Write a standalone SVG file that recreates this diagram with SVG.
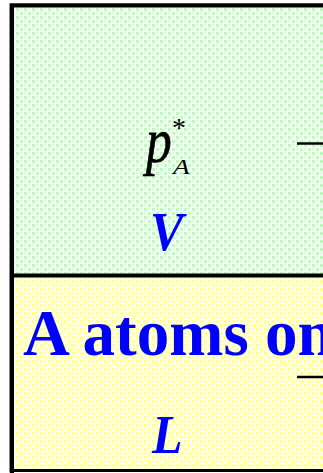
<svg xmlns="http://www.w3.org/2000/svg" width="323" height="473" viewBox="0 0 323 473">
<defs>
<pattern id="pg" width="8" height="8" patternUnits="userSpaceOnUse">
<rect width="8" height="8" fill="#f2fff2"/>
<rect x="0" y="0" width="3" height="3" fill="#bff9bf"/>
<rect x="4" y="4" width="3" height="3" fill="#bff9bf"/>
<rect x="4" y="0" width="2" height="2" fill="#d6fdd6"/>
<rect x="0" y="4" width="2" height="2" fill="#d6fdd6"/>
</pattern>
<pattern id="py" width="8" height="8" patternUnits="userSpaceOnUse">
<rect width="8" height="8" fill="#ffffec"/>
<rect x="0" y="0" width="3" height="3" fill="#ffff94"/>
<rect x="4" y="4" width="3" height="3" fill="#ffff94"/>
<rect x="4" y="0" width="2" height="2" fill="#ffffbc"/>
<rect x="0" y="4" width="2" height="2" fill="#ffffbc"/>
</pattern>
<style>
.eq{font-family:"Liberation Serif","Times New Roman",serif;}
.it{font-style:italic;}
.bi{font-style:italic;font-weight:bold;fill:#0000ff;}
.big{font-family:"Liberation Serif","Times New Roman",serif;font-weight:bold;fill:#0000ff;font-size:65px;}
.rule{stroke:#000;stroke-width:2.5;}
</style>
</defs>
<rect width="323" height="473" fill="#ffffff"/>
<g id="vapor">
<rect x="12" y="5.5" width="320" height="270" fill="url(#pg)"/>
<g class="eq">
<text class="it" transform="translate(146,162) scale(0.92,1.12)" font-size="56" stroke="#000" stroke-width="0.6">p</text>
<text class="it" transform="translate(173,174) scale(1.3,1)" font-size="21">A</text>
<text x="172" y="137" font-size="28">*</text>
<text class="bi" transform="translate(150,250) scale(1,1.08)" font-size="50">V</text>
</g>
<line class="rule" x1="297" y1="143.5" x2="323" y2="143.5"/>
</g>
<g id="liquid">
<rect x="12" y="275.5" width="320" height="195" fill="url(#py)"/>
<text class="big" x="23" y="355">A atoms on</text>
<g class="eq">
<text class="bi" transform="translate(152,453) scale(1,1.08)" font-size="50">L</text>
</g>
<line class="rule" x1="297" y1="377" x2="323" y2="377"/>
</g>
<g id="frame" fill="none">
<path d="M9.5 472.5 V3.5 H323" stroke="#888" stroke-width="1"/>
<path d="M12 473 V5.5 H323" stroke="#000" stroke-width="4"/>
<line x1="12" y1="275.5" x2="323" y2="275.5" stroke="#000" stroke-width="4"/>
<line x1="10" y1="470.5" x2="323" y2="470.5" stroke="#000" stroke-width="3"/>
</g>
</svg>
